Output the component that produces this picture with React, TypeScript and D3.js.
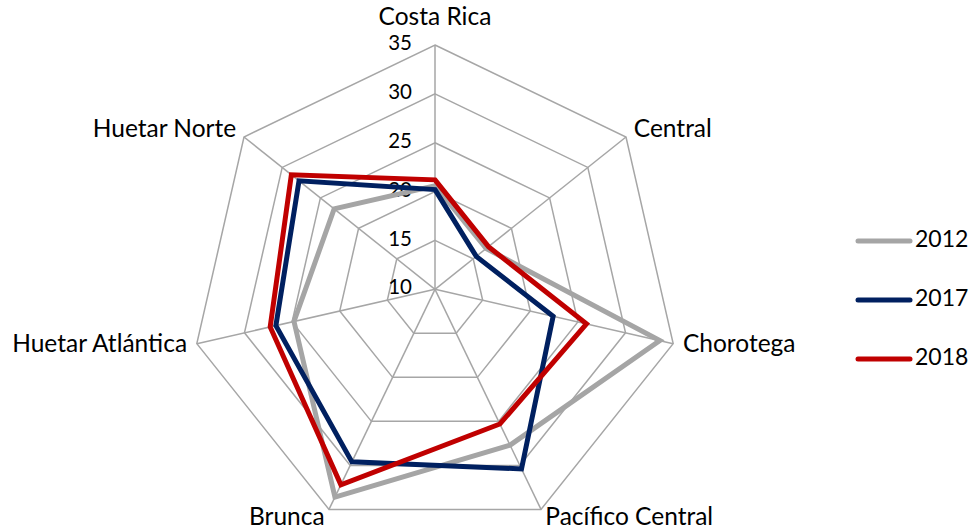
import React from "react";
import * as d3 from "d3";

const categories = ["Costa Rica", "Central", "Chorotega", "Pacífico Central", "Brunca", "Huetar Atlántica", "Huetar Norte"];
const years = ["2012", "2017", "2018"];
const values2012 = [20.6, 16.7, 33.6, 27.7, 33.6, 24.8, 23.2];
const values2017 = [20.2, 15.4, 22.4, 30.4, 29.6, 26.7, 27.8];
const values2018 = [21.2, 17.0, 25.9, 25.3, 32.2, 27.3, 28.8];
const tickValues = [10, 15, 20, 25, 30, 35];
const seriesColors = ["#a5a5a5", "#002060", "#c00000"];

const W = 971;
const H = 531;
const FONT = "Lato, 'Open Sans', sans-serif";

export default function App() {
  const cx = 435;
  const cy = 289.3;
  const R = 244.3;
  const n = categories.length;
  const r = d3.scaleLinear().domain([10, 35]).range([0, R]);
  const angle = (i: number) => (i * 2 * Math.PI) / n;
  const pt = (i: number, v: number): [number, number] => [
    cx + Math.sin(angle(i)) * r(v),
    cy - Math.cos(angle(i)) * r(v),
  ];
  const series = [values2012, values2017, values2018];
  const line = d3.line<[number, number]>().curve(d3.curveLinearClosed);
  const catFont = 24.5;

  return (
    <svg width={W} height={H} style={{ position: "absolute", left: 0, top: 0, background: "#fff" }} fontFamily={FONT}>
      <rect x={0} y={0} width={W} height={H} fill="#fff" />
      {/* grid rings */}
      {tickValues.slice(1).map((t) => (
        <path
          key={"ring" + t}
          d={line(categories.map((_, i) => pt(i, t))) || ""}
          fill="none"
          stroke="#a6a6a6"
          strokeWidth={1.5}
        />
      ))}
      {/* spokes */}
      {categories.map((c, i) => {
        const [x, y] = pt(i, 35);
        return <line key={"sp" + c} x1={cx} y1={cy} x2={x} y2={y} stroke="#a6a6a6" strokeWidth={1.5} />;
      })}
      {/* tick labels */}
      {tickValues.map((t) => (
        <text
          key={"tl" + t}
          x={412}
          y={cy - r(t)}
          textAnchor="end"
          dominantBaseline="middle"
          fontSize={20.5}
          fill="#000"
        >
          {t}
        </text>
      ))}
      {/* series */}
      {series.map((vals, s) => (
        <path
          key={"s" + s}
          d={line(vals.map((v, i) => pt(i, v))) || ""}
          fill="none"
          stroke={seriesColors[s]}
          strokeWidth={5}
          strokeLinejoin="miter"
        />
      ))}
      {/* category labels */}
      {categories.map((c, i) => {
        const a = angle(i);
        const sx = Math.sin(a);
        const cyy = -Math.cos(a);
        const [ox, oy] = pt(i, 35);
        const pad = 10;
        if (Math.abs(sx) < 0.1) {
          return (
            <text key={"cl" + c} x={ox} y={oy - 20} textAnchor="middle" fontSize={catFont} fill="#000">
              {c}
            </text>
          );
        }
        return (
          <text
            key={"cl" + c}
            x={ox + sx * pad}
            y={oy + cyy * pad}
            textAnchor={sx > 0 ? "start" : "end"}
            dominantBaseline="middle"
            fontSize={catFont}
            fill="#000"
          >
            {c}
          </text>
        );
      })}
      {/* legend */}
      {years.map((yr, k) => {
        const ly = 241 + k * 59;
        return (
          <g key={"lg" + yr}>
            <line x1={858} x2={910} y1={ly} y2={ly} stroke={seriesColors[k]} strokeWidth={5} strokeLinecap="round" />
            <text x={915} y={ly} dominantBaseline="middle" fontSize={23} fill="#000">
              {yr}
            </text>
          </g>
        );
      })}
    </svg>
  );
}
